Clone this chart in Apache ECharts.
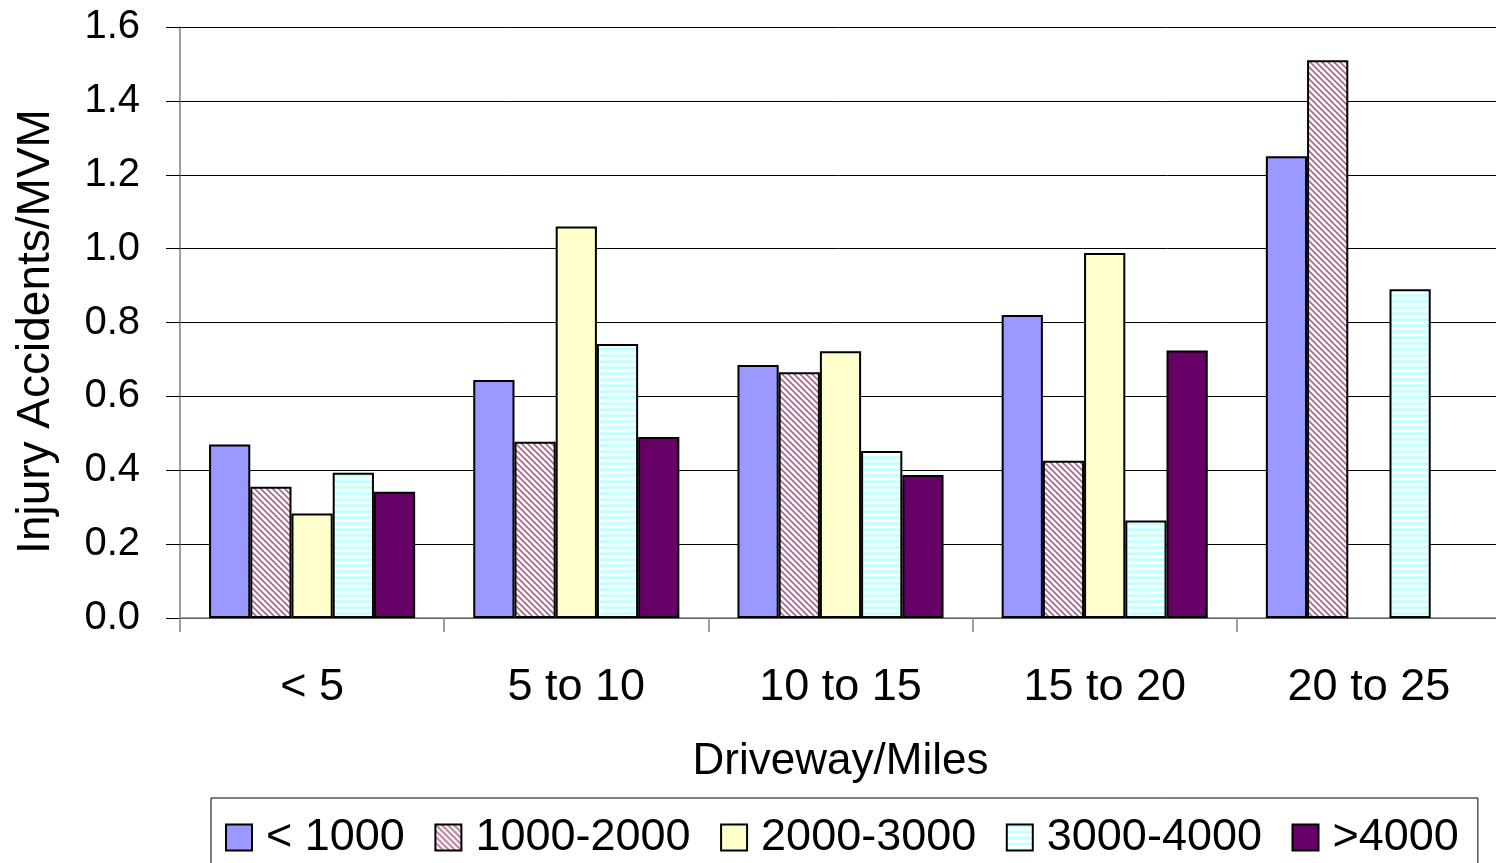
<!DOCTYPE html>
<html>
<head>
<meta charset="utf-8">
<script src="https://cdn.jsdelivr.net/npm/echarts@6/dist/echarts.min.js"></script>
<style>
html,body{margin:0;padding:0;background:#fff;}
#chart{width:1496px;height:863px;}
</style>
</head>
<body>
<div id="chart"></div>
<script>
const categories = ['< 5', '5 to 10', '10 to 15', '15 to 20', '20 to 25'];
const seriesNames = ['< 1000', '1000-2000', '2000-3000', '3000-4000', '>4000'];
const under1000 = [0.47, 0.644, 0.685, 0.82, 1.25];
const from1000to2000 = [0.355, 0.477, 0.665, 0.426, 1.51];
const from2000to3000 = [0.283, 1.06, 0.722, 0.988, null];
const from3000to4000 = [0.393, 0.742, 0.452, 0.264, 0.89];
const over4000 = [0.342, 0.49, 0.387, 0.724, null];
const yTicks = [0, 0.2, 0.4, 0.6, 0.8, 1.0, 1.2, 1.4, 1.6];

function hatchPattern() {
  const s = 6;
  const c = document.createElement('canvas');
  c.width = s; c.height = s;
  const g = c.getContext('2d');
  g.fillStyle = '#ffffff';
  g.fillRect(0, 0, s, s);
  g.strokeStyle = '#b0608c';
  g.lineWidth = 1.6;
  g.beginPath();
  g.moveTo(-1, -1); g.lineTo(s + 1, s + 1);
  g.moveTo(-1, s - 1); g.lineTo(1, s + 1);
  g.moveTo(s - 1, -1); g.lineTo(s + 1, 1);
  g.stroke();
  return { image: c, repeat: 'repeat' };
}
function stripePattern() {
  const c = document.createElement('canvas');
  c.width = 4; c.height = 6;
  const g = c.getContext('2d');
  g.fillStyle = '#ffffff';
  g.fillRect(0, 0, 4, 6);
  g.fillStyle = '#c8ffff';
  g.fillRect(0, 0, 4, 3);
  return { image: c, repeat: 'repeat' };
}

const fills = ['#9999ff', hatchPattern(), '#ffffcc', stripePattern(), '#660066'];
const dataSets = [under1000, from1000to2000, from2000to3000, from3000to4000, over4000];
const FONT = '"Liberation Sans", Arial, sans-serif';

const chart = echarts.init(document.getElementById('chart'), null, { renderer: 'canvas' });
chart.setOption({
  animation: false,
  backgroundColor: '#ffffff',
  grid: { left: 180, width: 1321, top: 27, height: 591, containLabel: false, outerBoundsMode: 'none' },
  legend: {
    left: 211, top: 798,
    itemWidth: 26, itemHeight: 26, itemGap: 29.5,
    borderColor: '#000', borderWidth: 1,
    padding: [17, 19, 30, 14],
    icon: 'rect',
    textStyle: { fontFamily: FONT, fontSize: 45, color: '#000', padding: [0, 0, 0, 9] },
    data: seriesNames
  },
  xAxis: {
    type: 'category',
    data: categories,
    name: 'Driveway/Miles',
    nameLocation: 'middle',
    nameGap: 122,
    nameTextStyle: { fontFamily: FONT, fontSize: 44, color: '#000' },
    axisLine: { lineStyle: { color: '#808080', width: 1.5 } },
    axisTick: { show: true, length: 14, interval: 0, lineStyle: { color: '#808080', width: 1.5 } },
    axisLabel: { fontFamily: FONT, fontSize: 45, color: '#000', margin: 47, interval: 0 },
    splitLine: { show: false }
  },
  yAxis: {
    type: 'value',
    min: 0, max: 1.6, interval: 0.2,
    name: 'Injury Accidents/MVM',
    nameLocation: 'middle',
    nameGap: 121,
    nameTextStyle: { fontFamily: FONT, fontSize: 46, color: '#000', padding: [0, 18, 0, 0] },
    axisLine: { show: true, lineStyle: { color: '#808080', width: 1.5 } },
    axisTick: { show: true, length: 14, lineStyle: { color: '#000', width: 1 } },
    axisLabel: {
      fontFamily: FONT, fontSize: 40, color: '#000', margin: 40,
      formatter: v => { const t = yTicks.find(x => Math.abs(x - v) < 1e-9); return (t !== undefined ? t : v).toFixed(1); }
    },
    splitLine: { show: true, lineStyle: { color: '#000', width: 1 } }
  },
  series: dataSets.map((d, i) => ({
    name: seriesNames[i],
    type: 'bar',
    data: d,
    barGap: '0%',
    barCategoryGap: '22%',
    itemStyle: { color: fills[i], borderColor: '#000', borderWidth: 2 }
  }))
});
</script>
</body>
</html>
